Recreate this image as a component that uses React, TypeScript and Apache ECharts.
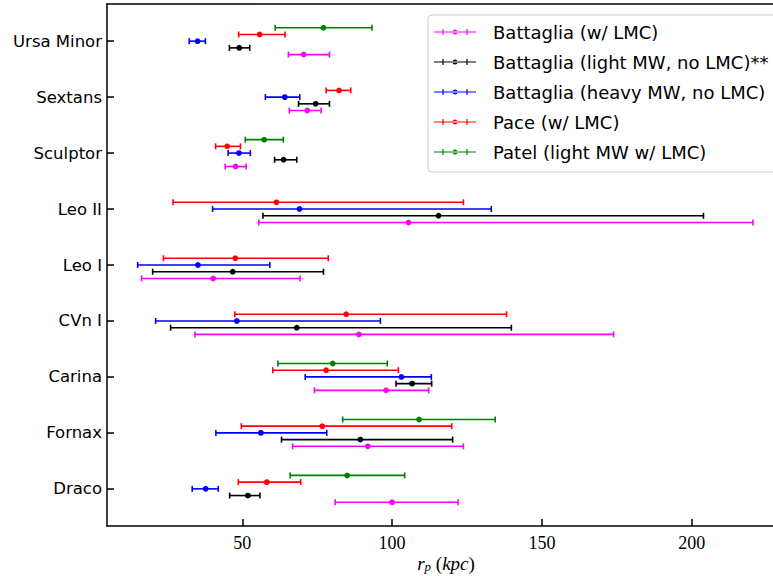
import React, { useEffect, useRef } from "react";
import * as echarts from "echarts";

// Galaxies from bottom (0) to top (8)
const galaxies = ["Draco", "Fornax", "Carina", "CVn I", "Leo I", "Leo II", "Sculptor", "Sextans", "Ursa Minor"];
const xTicks = [50, 100, 150, 200];
const yTicks = [0, 1, 2, 3, 4, 5, 6, 7, 8];

// [low, value, high] per galaxy, same order as `galaxies`; null = missing
const battagliaLmc = [
  [81.0, 100.0, 122.0], [66.8, 91.9, 123.8], [74.1, 98.0, 112.2], [34.2, 88.9, 173.9], [16.4, 40.3, 69.3],
  [55.5, 105.5, 220.4], [44.3, 47.8, 51.3], [65.7, 71.7, 76.3], [65.4, 70.5, 79.1],
];
const battagliaLight = [
  [45.8, 51.9, 55.9], [63.1, 89.4, 120.2], [101.3, 106.7, 113.2], [26.1, 68.2, 139.8], [20.1, 46.8, 77.1],
  [56.9, 115.5, 203.9], [60.8, 63.8, 68.2], [68.8, 74.5, 79.1], [45.7, 49.0, 52.5],
];
const battagliaHeavy = [
  [33.3, 37.8, 42.0], [41.2, 56.2, 78.2], [71.0, 103.1, 113.1], [21.1, 48.2, 96.1], [15.1, 35.2, 59.2],
  [40.1, 69.1, 133.1], [45.3, 48.9, 52.7], [57.7, 64.2, 69.2], [32.3, 35.1, 37.7],
];
const paceLmc = [
  [48.7, 58.2, 69.5], [49.7, 76.7, 119.9], [60.2, 78.0, 102.1], [47.5, 84.7, 138.2], [23.7, 47.7, 78.7],
  [26.9, 61.4, 123.8], [41.1, 45.0, 49.4], [78.0, 82.3, 86.2], [48.8, 55.8, 64.3],
];
const patelLight = [
  [66.0, 85.0, 104.2], [83.5, 109.0, 134.4], [61.9, 80.2, 98.4], null, null,
  null, [51.0, 57.3, 63.7], null, [61.0, 77.1, 93.3],
];

const seriesDefs = [
  { name: "Battaglia (w/ LMC)", data: battagliaLmc, color: "#ff00ff", offset: -0.24 },
  { name: "Battaglia (light MW, no LMC)**", data: battagliaLight, color: "#000000", offset: -0.12 },
  { name: "Battaglia (heavy MW, no LMC)", data: battagliaHeavy, color: "#0000ff", offset: 0 },
  { name: "Pace (w/ LMC)", data: paceLmc, color: "#ff0000", offset: 0.12 },
  { name: "Patel (light MW w/ LMC)", data: patelLight, color: "#008000", offset: 0.24 },
];

const legendIcon =
  "path://M0 2.4H42V3.6H0Z M8.4 0H9.6V6H8.4Z M32.4 0H33.6V6H32.4Z M18.5 3A2.5 2.5 0 1 0 23.5 3A2.5 2.5 0 1 0 18.5 3Z";

export default function App() {
  const ref = useRef<HTMLDivElement>(null);
  useEffect(() => {
    if (!ref.current) return;
    const chart = echarts.init(ref.current, null, { renderer: "svg" });
    const series = seriesDefs.map((s) => ({
      type: "custom",
      name: s.name,
      itemStyle: { color: s.color },
      clip: true,
      encode: { x: [1, 2, 3], y: 0 },
      data: s.data
        .map((d, i) => (d ? [i + s.offset, d[0], d[1], d[2]] : null))
        .filter((d) => d !== null),
      renderItem: (params: any, api: any) => {
        const y = api.value(0);
        const a = api.coord([api.value(1), y]);
        const m = api.coord([api.value(2), y]);
        const b = api.coord([api.value(3), y]);
        const st = { stroke: s.color, lineWidth: 1.6 };
        return {
          type: "group",
          children: [
            { type: "line", shape: { x1: a[0], y1: a[1], x2: b[0], y2: b[1] }, style: st },
            { type: "line", shape: { x1: a[0], y1: a[1] - 3, x2: a[0], y2: a[1] + 3 }, style: st },
            { type: "line", shape: { x1: b[0], y1: b[1] - 3, x2: b[0], y2: b[1] + 3 }, style: st },
            { type: "circle", shape: { cx: m[0], cy: m[1], r: 2.9 }, style: { fill: s.color } },
          ],
        };
      },
    }));
    chart.setOption({
      animation: false,
      grid: { left: 107, top: 4, width: 678, height: 522, outerBoundsMode: "none", containLabel: false },
      legend: {
        orient: "vertical",
        left: 428,
        top: 15,
        padding: [7, 40, 10, 6],
        itemGap: 10,
        itemWidth: 42,
        itemHeight: 6,
        backgroundColor: "rgba(255,255,255,0.8)",
        borderColor: "#cccccc",
        borderWidth: 1,
        borderRadius: 4,
        formatter: (name: string) => "{g| }" + name,
        textStyle: {
          fontFamily: "DejaVu Sans",
          fontSize: 18,
          color: "#000",
          lineHeight: 20,
          rich: { g: { width: 12, fontSize: 18, lineHeight: 20 } },
        },
        data: seriesDefs.map((s) => ({ name: s.name, icon: legendIcon })),
      },
      xAxis: [
        {
          type: "value",
          min: 4.87,
          max: 231.1,
          name: "{i|r}{s|p}{u| (}{i|kpc}{u|)}",
          nameLocation: "middle",
          nameGap: 27,
          nameMoveOverlap: false,
          nameTextStyle: {
            lineHeight: 20,
            rich: {
              i: { fontFamily: "Liberation Serif", fontStyle: "italic", fontSize: 19, color: "#000", lineHeight: 20 },
              s: { fontFamily: "Liberation Serif", fontStyle: "italic", fontSize: 13, color: "#000", lineHeight: 12, verticalAlign: "bottom" },
              u: { fontFamily: "Liberation Serif", fontSize: 19, color: "#000", lineHeight: 20 },
            },
          },
          axisLine: { show: true, onZero: false, lineStyle: { color: "#000", width: 1.5 } },
          axisTick: { show: true, inside: true, length: 7, customValues: xTicks, lineStyle: { color: "#000", width: 1.5 } },
          axisLabel: {
            customValues: xTicks,
            margin: 8,
            fontFamily: "Liberation Serif",
            fontSize: 18,
            color: "#000",
          },
          splitLine: { show: false },
        },
        {
          type: "value",
          position: "top",
          min: 4.87,
          max: 231.1,
          axisLine: { show: true, onZero: false, lineStyle: { color: "#000", width: 1.5 } },
          axisTick: { show: false },
          axisLabel: { show: false },
          splitLine: { show: false },
        },
      ],
      yAxis: {
        type: "value",
        min: -0.664,
        max: 8.664,
        axisLine: { show: true, onZero: false, lineStyle: { color: "#000", width: 1.5 } },
        axisTick: { show: true, inside: true, length: 7, customValues: yTicks, lineStyle: { color: "#000", width: 1.5 } },
        axisLabel: {
          customValues: yTicks,
          margin: 5,
          fontFamily: "DejaVu Sans",
          fontSize: 16.5,
          color: "#000",
          formatter: (v: number) => galaxies[Math.round(v)] ?? "",
        },
        splitLine: { show: false },
      },
      series,
    });
    return () => chart.dispose();
  }, []);
  return <div ref={ref} style={{ width: 773, height: 576, position: "absolute", left: 0, top: 0 }} />;
}
